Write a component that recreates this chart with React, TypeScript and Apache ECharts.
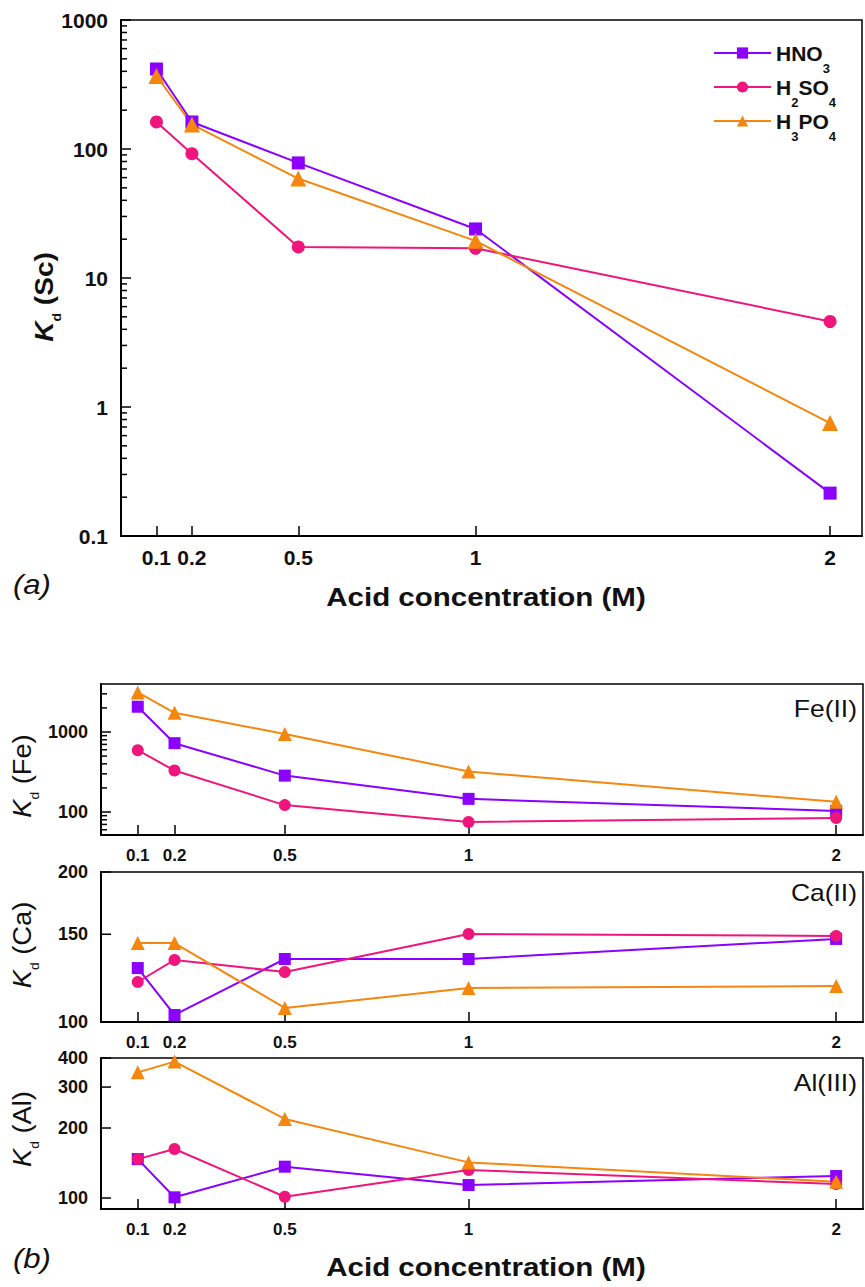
import React, { useEffect, useRef } from 'react';
import * as echarts from 'echarts';

// ---------- data ----------
const concentrations = [0.1, 0.2, 0.5, 1, 2];
const acids = ['HNO3', 'H2SO4', 'H3PO4'];

// (a) Kd (Sc)
const scHNO3 = [417, 162, 78, 24, 0.215];
const scH2SO4 = [162, 92, 17.4, 17, 4.6];
const scH3PO4 = [368, 155, 59, 19.4, 0.75];

// (b) Kd (Fe)
const feHNO3 = [2070, 725, 285, 146, 103];
const feH2SO4 = [592, 330, 122, 75, 84];
const feH3PO4 = [3120, 1740, 944, 321, 134];

// (b) Kd (Ca)
const caHNO3 = [128.3, 103.3, 133.8, 133.8, 146.8];
const caH2SO4 = [120.3, 133.2, 126, 150.2, 148.8];
const caH3PO4 = [144, 144, 106.7, 117, 118.1];

// (b) Kd (Al)
const alHNO3 = [147, 100.7, 136.4, 113.7, 124.3];
const alH2SO4 = [147, 162.5, 101.3, 132, 114.9];
const alH3PO4 = [347, 386, 218.7, 142.3, 117.5];

// tick values
const xTickValues = [0.1, 0.2, 0.5, 1, 2];
const scMajorTicks = [0.1, 1, 10, 100, 1000];
const scMinorTicks = [0.2, 0.3, 0.4, 0.5, 0.6, 0.7, 0.8, 0.9, 2, 3, 4, 5, 6, 7, 8, 9, 20, 30, 40, 50, 60, 70, 80, 90, 200, 300, 400, 500, 600, 700, 800, 900];
const feMajorTicks = [100, 1000];
const feMinorTicks = [60, 70, 80, 90, 200, 300, 400, 500, 600, 700, 800, 900, 2000, 3000];
const caMajorTicks = [100, 150, 200];
const alMajorTicks = [100, 200, 300, 400];

// ---------- styles ----------
const FONT = '"Liberation Sans", Arial, Helvetica, sans-serif';
const INK = '#111111';
const COLORS: Record<string, string> = { HNO3: '#8B00FF', H2SO4: '#F0157D', H3PO4: '#F5870F' };
const SYMBOLS: Record<string, string> = { HNO3: 'rect', H2SO4: 'circle', H3PO4: 'triangle' };

function lineSeries(name: string, values: number[], gi: number, big: boolean) {
  const color = COLORS[name];
  const size = name === 'H3PO4' ? (big ? 16 : 14) : big ? 13 : 12;
  return {
    type: 'line',
    name,
    xAxisIndex: gi,
    yAxisIndex: gi,
    data: concentrations.map((c, i) => [c, values[i]]),
    symbol: SYMBOLS[name],
    symbolSize: size,
    itemStyle: { color },
    lineStyle: { color, width: 2 },
    clip: false,
    z: 3,
  };
}

function tickSeries(gi: number, majors: number[], minors: number[], fontSize: number, margin: number) {
  const data = [...majors.map((v) => [0, v, 1]), ...minors.map((v) => [0, v, 0])];
  return {
    type: 'custom',
    xAxisIndex: gi,
    yAxisIndex: gi,
    data,
    silent: true,
    clip: false,
    z: 6,
    encode: { x: 0, y: 1 },
    renderItem: (params: any, api: any) => {
      const v = api.value(1);
      const major = api.value(2) === 1;
      const p = api.coord([api.value(0), v]);
      const len = major ? 10 : 6;
      const children: any[] = [
        {
          type: 'line',
          shape: { x1: p[0], y1: p[1], x2: p[0] + len, y2: p[1] },
          style: { stroke: '#000', lineWidth: 1.5 },
        },
      ];
      if (major) {
        children.push({
          type: 'text',
          x: p[0] - margin,
          y: p[1],
          style: {
            text: String(v),
            align: 'right',
            verticalAlign: 'middle',
            fontSize,
            fontWeight: 'bold',
            fontFamily: FONT,
            fill: INK,
          },
        });
      }
      return { type: 'group', children };
    },
  };
}

function xAxis(gi: number, max: number, fontSize: number, margin: number) {
  return {
    type: 'value',
    gridIndex: gi,
    min: 0,
    max,
    axisLine: { show: true, onZero: false, lineStyle: { color: '#000', width: 2 } },
    axisTick: { show: true, inside: true, length: 10, customValues: xTickValues, lineStyle: { color: '#000', width: 1.5 } },
    axisLabel: {
      customValues: xTickValues,
      formatter: (v: number) => String(v),
      margin,
      fontSize,
      fontWeight: 'bold',
      fontFamily: FONT,
      color: INK,
    },
    splitLine: { show: false },
  };
}

function yAxis(gi: number, min: number, max: number) {
  return {
    type: 'log',
    logBase: 10,
    gridIndex: gi,
    min,
    max,
    axisLine: { show: true, onZero: false, lineStyle: { color: '#000', width: 2 } },
    axisTick: { show: false },
    axisLabel: { show: false },
    splitLine: { show: false },
    minorTick: { show: false },
    minorSplitLine: { show: false },
  };
}

function grid(left: number, top: number, width: number, height: number) {
  return { left, top, width, height, show: true, borderColor: '#000', borderWidth: 1.5, outerBoundsMode: 'none', containLabel: false };
}

function kdTitle(x: number, y: number, el: string, bold: boolean, scaleX: number) {
  const fw = bold ? 'bold' : 'normal';
  return {
    type: 'text',
    x,
    y,
    rotation: Math.PI / 2,
    scaleX,
    style: {
      text: `{k|K}{d|d}{t| (${el})}`,
      align: 'center',
      verticalAlign: 'middle',
      fontSize: 26,
      fontWeight: fw,
      fontFamily: FONT,
      fill: INK,
      rich: {
        k: { fontSize: 26, lineHeight: 30, fontStyle: 'italic', fontWeight: fw, fontFamily: FONT, fill: INK, color: INK },
        d: { fontSize: 13, lineHeight: 2, fontWeight: fw, fontFamily: FONT, fill: INK, color: INK, verticalAlign: 'top', padding: [21, 0, 0, 0] },
        t: { fontSize: 26, lineHeight: 30, fontWeight: fw, fontFamily: FONT, fill: INK, color: INK },
      },
    },
  };
}

function plainText(x: number, y: number, text: string, font: { size: number; weight?: string; style?: string }, align: string, scaleX: number) {
  return {
    type: 'text',
    x,
    y,
    scaleX,
    style: {
      text,
      align,
      verticalAlign: 'middle',
      fontSize: font.size,
      fontWeight: font.weight || 'normal',
      fontStyle: font.style || 'normal',
      fontFamily: FONT,
      fill: INK,
    },
  };
}

export default function App() {
  const ref = useRef<HTMLDivElement>(null);

  useEffect(() => {
    document.body.style.margin = '0';
    if (!ref.current) return;
    const chart = echarts.init(ref.current, null, { renderer: 'svg' });

    const panels = [
      { gi: 0, sets: [scHNO3, scH2SO4, scH3PO4], big: true },
      { gi: 1, sets: [feHNO3, feH2SO4, feH3PO4], big: false },
      { gi: 2, sets: [caHNO3, caH2SO4, caH3PO4], big: false },
      { gi: 3, sets: [alHNO3, alH2SO4, alH3PO4], big: false },
    ];
    const series: any[] = [];
    panels.forEach((p) => {
      acids.forEach((a, i) => series.push(lineSeries(a, p.sets[i], p.gi, p.big)));
    });
    series.push(tickSeries(0, scMajorTicks, scMinorTicks, 21, 13));
    series.push(tickSeries(1, feMajorTicks, feMinorTicks, 18, 13));
    series.push(tickSeries(2, caMajorTicks, [], 18, 13));
    series.push(tickSeries(3, alMajorTicks, [], 18, 13));

    const option: any = {
      animation: false,
      backgroundColor: '#ffffff',
      grid: [grid(121, 20, 741, 516), grid(101, 684, 762, 151), grid(101, 872, 762, 150), grid(101, 1058, 762, 151)],
      xAxis: [xAxis(0, 2.09, 21, 11), xAxis(1, 2.073, 17, 12), xAxis(2, 2.073, 17, 12), xAxis(3, 2.073, 17, 12)],
      yAxis: [yAxis(0, 0.1, 1000), yAxis(1, 51.6, 3980), yAxis(2, 100, 200), yAxis(3, 89.7, 400)],
      legend: {
        data: acids,
        orient: 'vertical',
        left: 708,
        top: 35,
        itemWidth: 57,
        itemHeight: 14,
        itemGap: -1,
        formatter: (n: string) => n.replace(/([A-Z]+)/g, '{m|$1}').replace(/(\d)/g, '{s|$1}'),
        textStyle: {
          fontSize: 21,
          fontWeight: 'bold',
          fontFamily: FONT,
          color: INK,
          rich: {
            m: { fontSize: 21, lineHeight: 26, fontWeight: 'bold', fontFamily: FONT, color: INK, verticalAlign: 'middle' },
            s: { fontSize: 13, lineHeight: 2, fontWeight: 'bold', fontFamily: FONT, color: INK, verticalAlign: 'top', padding: [22, 0, 0, 0] },
          },
        },
      },
      graphic: [
        kdTitle(44, 297, 'Sc', true, 1.08),
        kdTitle(22, 776, 'Fe', false, 1.05),
        kdTitle(22, 945, 'Ca', false, 1.05),
        kdTitle(22, 1129, 'Al', false, 1.05),
        plainText(486, 597, 'Acid concentration (M)', { size: 25, weight: 'bold' }, 'center', 1.18),
        plainText(486, 1267, 'Acid concentration (M)', { size: 25, weight: 'bold' }, 'center', 1.18),
        plainText(13, 585, '(a)', { size: 27, style: 'italic' }, 'left', 1.15),
        plainText(13, 1259, '(b)', { size: 27, style: 'italic' }, 'left', 1.15),
        plainText(857, 709, 'Fe(II)', { size: 23 }, 'right', 1.15),
        plainText(857, 893, 'Ca(II)', { size: 23 }, 'right', 1.15),
        plainText(857, 1083, 'Al(III)', { size: 23 }, 'right', 1.15),
      ],
      series,
    };
    chart.setOption(option);
    return () => chart.dispose();
  }, []);

  return <div ref={ref} style={{ width: 865, height: 1287 }} />;
}
